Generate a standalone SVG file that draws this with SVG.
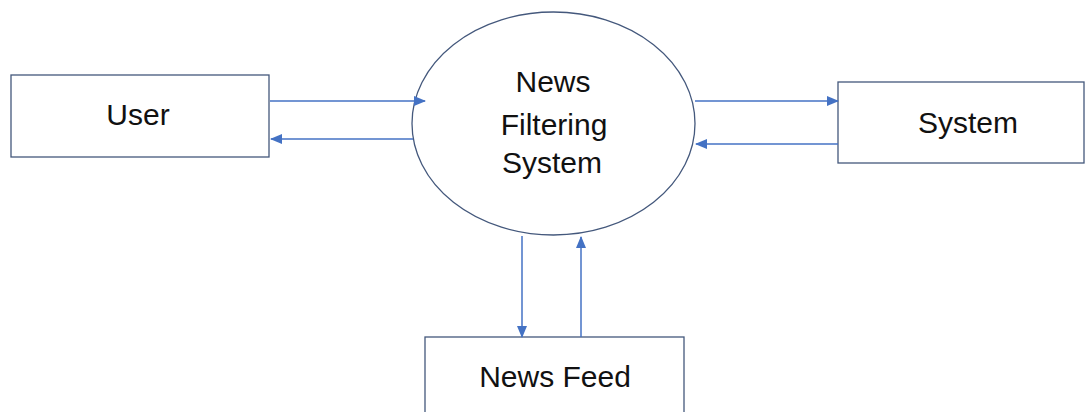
<svg xmlns="http://www.w3.org/2000/svg" width="1086" height="412" viewBox="0 0 1086 412">
<style>
.box{fill:#ffffff;stroke:#44587c;stroke-width:1.3}
.proc{fill:#ffffff;stroke:#44587c;stroke-width:1.3}
.lbl{font-family:"Liberation Sans",Arial,sans-serif;font-size:30px;fill:#111111;text-anchor:middle}
.flow{stroke:#4472c4;stroke-width:1.5;fill:none;marker-end:url(#ah)}
</style>
<defs>
<marker id="ah" markerUnits="userSpaceOnUse" markerWidth="12" markerHeight="10" refX="11" refY="5" orient="auto">
<path d="M0,0 L12,5 L0,10 Z" fill="#4472c4"/>
</marker>
</defs>
<rect width="1086" height="412" fill="#ffffff"/>
<g id="user">
<rect class="box" x="11" y="75" width="258" height="82"/>
<text class="lbl" x="138" y="125">User</text>
</g>
<g id="nfs">
<ellipse class="proc" cx="553.5" cy="123.5" rx="141.5" ry="111.5"/>
<text class="lbl" x="553" y="92">News</text>
<text class="lbl" x="554" y="135">Filtering</text>
<text class="lbl" x="552" y="173">System</text>
</g>
<g id="system">
<rect class="box" x="838" y="82" width="246" height="81"/>
<text class="lbl" x="968" y="133">System</text>
</g>
<g id="newsfeed">
<rect class="box" x="425" y="337" width="259" height="90"/>
<text class="lbl" x="555" y="387">News Feed</text>
</g>
<g id="connectors">
<line class="flow" x1="270" y1="101" x2="425" y2="101"/>
<line class="flow" x1="413" y1="139" x2="271" y2="139"/>
<line class="flow" x1="695" y1="101" x2="838" y2="101"/>
<line class="flow" x1="838" y1="144" x2="696" y2="144"/>
<line class="flow" x1="522" y1="236" x2="522" y2="337"/>
<line class="flow" x1="581" y1="337" x2="581" y2="237"/>
</g>
</svg>
